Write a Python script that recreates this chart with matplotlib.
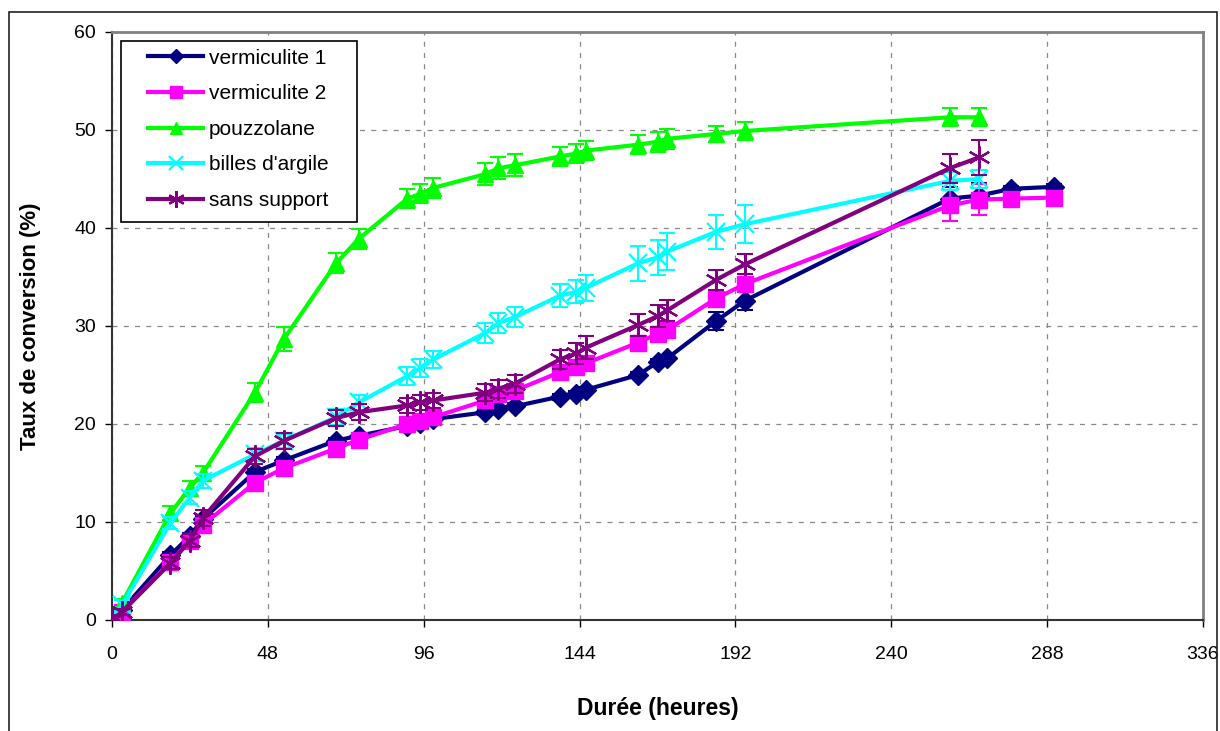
import numpy as np
import matplotlib
matplotlib.use("Agg")
import matplotlib.pyplot as plt
from matplotlib.patches import Rectangle

plt.rcParams['font.family'] = ['Liberation Sans', 'DejaVu Sans']

# sampling times (hours)
t_long = [0, 3, 18, 24, 28, 44, 53, 69, 76, 91, 95, 99, 115, 119, 124,
          138, 143, 146, 162, 168, 171, 186, 195, 258, 267, 277, 290]
t_short = t_long[:25]

verm1 = [0, 1.0, 6.6, 8.6, 10.3, 15.1, 16.3, 18.3, 18.8, 19.8, 20.1, 20.5,
         21.2, 21.5, 21.8, 22.8, 23.1, 23.5, 25.0, 26.3, 26.7, 30.5, 32.6,
         43.0, 43.3, 44.0, 44.2]
verm1_err = [0, 0.3, 0.3, 0.3, 0.3, 0.3, 0.3, 0.3, 0.3, 0.3, 0.3, 0.3,
             0.3, 0.3, 0.3, 0.3, 0.3, 0.3, 0.3, 0.3, 0.3, 0.9, 1.0,
             1.2, 1.3, 0.3, 0.3]

verm2 = [0, 0.8, 5.9, 8.1, 9.7, 14.0, 15.5, 17.5, 18.4, 20.0, 20.3, 20.7,
         22.4, 23.1, 23.4, 25.3, 25.8, 26.2, 28.3, 29.2, 29.6, 32.8, 34.3,
         42.3, 42.9, 43.0, 43.1]
verm2_err = [0, 0.3, 0.3, 0.3, 0.3, 0.3, 0.3, 0.3, 0.3, 0.3, 0.3, 0.3,
             0.3, 0.3, 0.3, 0.3, 0.3, 0.3, 0.3, 0.3, 0.3, 0.5, 0.5,
             1.6, 1.6, 0.3, 0.3]

pouz = [0, 1.7, 10.9, 13.5, 15.0, 23.2, 28.7, 36.4, 38.9, 43.0, 43.5, 44.1,
        45.5, 46.1, 46.4, 47.3, 47.6, 47.9, 48.5, 48.8, 49.1, 49.6, 49.9,
        51.3, 51.3]
pouz_err = [0, 0.4, 0.7, 0.7, 0.7, 1.0, 1.2, 1.0, 1.0, 1.0, 1.0, 1.0,
            1.1, 1.1, 1.1, 1.0, 1.0, 1.0, 1.0, 1.0, 1.0, 0.8, 0.9,
            0.9, 0.9]

billes = [0, 1.5, 9.9, 12.5, 14.2, 16.9, 18.3, 20.7, 22.2, 24.9, 25.7, 26.6,
          29.3, 30.3, 30.9, 33.1, 33.5, 33.9, 36.4, 37.0, 37.6, 39.6, 40.4,
          44.8, 45.0]
billes_err = [0, 0.5, 0.6, 0.7, 0.7, 0.7, 0.7, 0.8, 0.8, 0.9, 0.9, 0.9,
              1.0, 1.0, 1.0, 1.2, 1.2, 1.3, 1.8, 1.8, 1.9, 1.7, 1.9,
              0.9, 0.9]

sans = [0, 0.8, 5.8, 8.1, 10.4, 16.7, 18.3, 20.6, 21.2, 21.9, 22.2, 22.4,
        23.2, 23.6, 24.1, 26.6, 27.2, 27.8, 30.1, 31.0, 31.6, 34.7, 36.3,
        46.1, 47.2]
sans_err = [0, 0.3, 0.6, 0.7, 0.8, 0.8, 0.8, 0.8, 0.8, 0.8, 0.8, 0.8,
            0.9, 0.9, 0.9, 1.0, 1.1, 1.2, 1.1, 1.1, 1.1, 1.0, 1.0,
            1.5, 1.8]

W, H = 1220, 731
fig = plt.figure(figsize=(W / 100, H / 100), dpi=100)
ax = fig.add_axes([112 / W, 1 - 620 / H, (1203 - 112) / W, (620 - 32) / H])

# outer chart border
fig.patches.append(Rectangle((9 / W, -0.05), 1208 / W, 1.05 - 12 / H,
                             transform=fig.transFigure, fill=False,
                             edgecolor='#222222', linewidth=1.2))

series = [
    ("vermiculite 1", t_long, verm1, verm1_err, '#000080', dict(marker='D', ms=10)),
    ("vermiculite 2", t_long, verm2, verm2_err, '#FF00FF', dict(marker='s', ms=12)),
    ("pouzzolane", t_short, pouz, pouz_err, '#00FF00', dict(marker='^', ms=11)),
    ("billes d'argile", t_short, billes, billes_err, '#00FFFF', dict(marker='x', ms=13, mew=1.6)),
    ("sans support", t_short, sans, sans_err, '#800080', dict(marker=(6, 2, 0), ms=16, mew=1.6)),
]

handles = []
for i, (name, t, y, e, c, mk) in enumerate(series):
    ax.errorbar(t, y, yerr=e, color=c, ecolor=c, elinewidth=1.5, capsize=6,
                capthick=1.5, linestyle='none', marker='none', zorder=3 + i)
    h, = ax.plot(t, y, color=c, linewidth=3, markeredgecolor=c,
                 markerfacecolor=c, zorder=3 + i, label=name, **mk)
    handles.append(h)

ax.set_xlim(0, 336)
ax.set_ylim(0, 60)
ax.set_xticks(np.arange(0, 337, 48))
ax.set_yticks(np.arange(0, 61, 10))
ax.tick_params(labelsize=14, direction='out', length=5, width=1)
ax.tick_params(axis='x', pad=14)
ax.tick_params(axis='y', pad=6.5)
ax.grid(True, color='#888888', linestyle=(0, (4, 5)), linewidth=0.9)
ax.set_axisbelow(True)

for s in ['top', 'right']:
    ax.spines[s].set_color('#808080')
    ax.spines[s].set_linewidth(2)
for s in ['left', 'bottom']:
    ax.spines[s].set_color('#333333')
    ax.spines[s].set_linewidth(1.5)

ax.set_xlabel('Durée (heures)', fontsize=16.5, fontweight='bold', labelpad=24)
ax.set_ylabel('Taux de conversion (%)', fontsize=16, fontweight='bold', labelpad=24)

# legend box drawn separately so that its padding matches the reference
fig.patches.append(Rectangle((121 / W, 1 - 222 / H), (357 - 121) / W, (222 - 41) / H,
                             transform=fig.transFigure, facecolor='white',
                             edgecolor='black', linewidth=1.2, zorder=19))
leg = fig.legend(handles=handles, loc='upper left',
                 bbox_to_anchor=(148 / W, 1 - 48.5 / H),
                 fontsize=15, frameon=False, handlelength=2.65,
                 labelspacing=0.8, borderpad=0, handletextpad=0.28,
                 markerscale=0.75, borderaxespad=0)
leg.set_zorder(20)

fig.savefig('out.png', dpi=100)
